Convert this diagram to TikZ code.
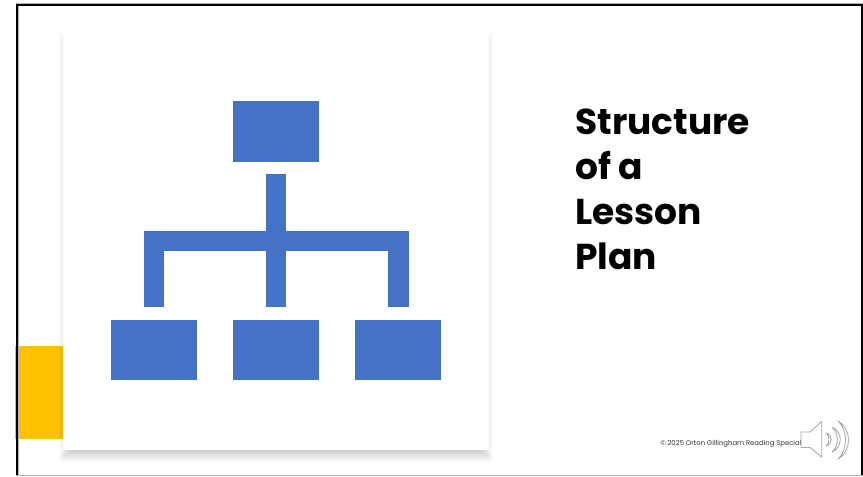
\documentclass[tikz,border=0pt]{standalone}
\usepackage{fontspec}
\setmainfont{Poppins}
\definecolor{iconblue}{HTML}{4472C4}
\definecolor{accent}{HTML}{FFC000}
\definecolor{speakergray}{HTML}{A6A6A6}
\definecolor{edgegray}{HTML}{B4B4B4}
\tikzset{
  orgbox/.style={fill=iconblue,draw=none,inner sep=0pt,minimum width=64.5pt,minimum height=45.5pt},
  conn/.style={draw=iconblue,line width=15.3pt,line join=miter,shorten <=9pt,shorten >=9pt},
  frameblack/.style={fill=black,draw=none},
  speaker/.style={fill=white,draw=speakergray,line width=0.6pt,line join=round},
}
\begin{document}
\begin{tikzpicture}[x=0.75pt,y=-0.75pt]
\useasboundingbox (0,0) rectangle (863,476);
\fill[white] (0,0) rectangle (863,476);
% accent block
\fill[accent] (15,346) rectangle (80,438.7);
% card shadow
\foreach \e in {-8,...,8}{
  \fill[black,opacity=0.016] (67-\e,42-\e) rectangle (485+\e,454+\e);
}
% card
\fill[white] (63,33) rectangle (489.3,450);
% frame
\fill[edgegray] (15.7,3.2) rectangle (863,4.2);
\fill[edgegray] (18,6) rectangle (19,475);
\fill[frameblack] (15.7,4) rectangle (18,475);
\fill[frameblack] (15.7,4) rectangle (863,6.2);
\fill[frameblack] (860.7,4) rectangle (863,475);
\fill[edgegray] (15.7,475) rectangle (863,476);
% org chart
\node[orgbox] (top) at (276.1,131.2) {};
\node[orgbox] (left) at (153.7,350) {};
\node[orgbox] (mid) at (276.1,350) {};
\node[orgbox] (right) at (398.4,350) {};
\coordinate (J) at (276.1,240.85);
\draw[conn] (left.north) |- (J) -| (right.north);
\draw[conn] (top.south) -- (mid.north);
% title
\node[anchor=north west,inner sep=0pt,align=left,font=\fontsize{27}{33.75}\selectfont\bfseries] (title) at (575,108.5) {Structure\\of a\\Lesson\\Plan};
% footer
\node[anchor=west,inner sep=0pt,text=black!80,font=\fontsize{5.15}{7}\selectfont] (foot) at (660,444) {© 2025 Orton Gillingham Reading Special};
% speaker
\draw[speaker] (801,432) -- (810,432) -- (821.7,421.5) -- (821.7,457) -- (810,447.5) -- (801,447.5) -- cycle;
\draw[speaker] (826,433) .. controls (830,436) and (830,443) .. (826,446) .. controls (833,444) and (833,435) .. (826,433) -- cycle;
\draw[speaker] (832,427) .. controls (839,433) and (839,446) .. (832,452) .. controls (843,447) and (843,432) .. (832,427) -- cycle;
\draw[speaker] (838,421) .. controls (848,430) and (848,450) .. (838,459) .. controls (852,451) and (852,429) .. (838,421) -- cycle;
\end{tikzpicture}
\end{document}
